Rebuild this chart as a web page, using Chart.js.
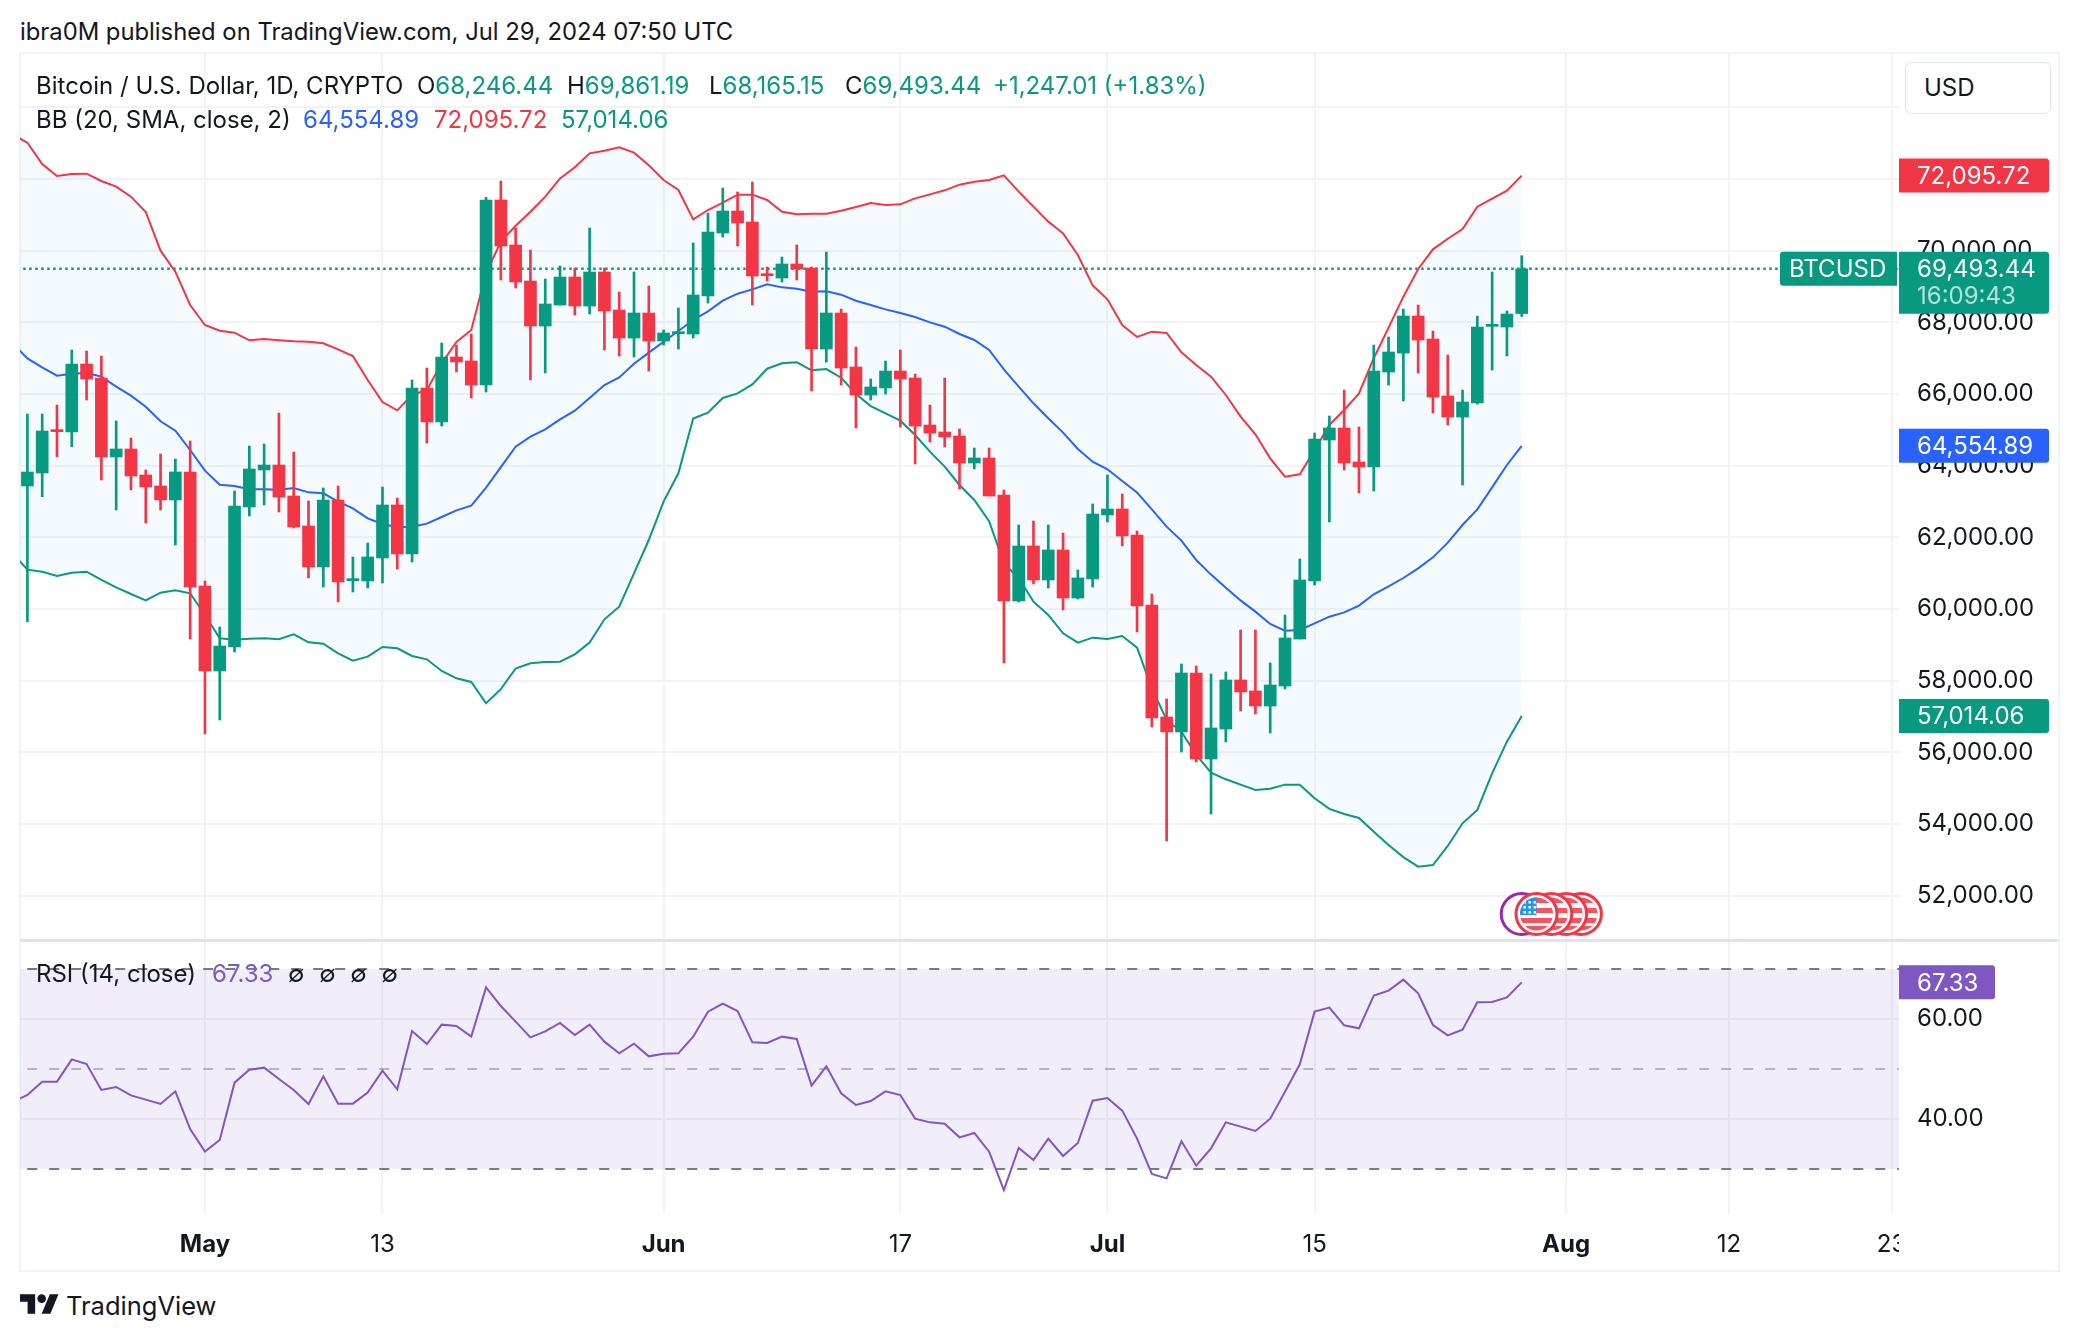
<!DOCTYPE html>
<html>
<head>
<meta charset="utf-8">
<title>BTCUSD</title>
<script src="https://cdn.jsdelivr.net/npm/chart.js@4"></script>
<style>
  html, body { margin: 0; padding: 0; background: #fff; }
  body { width: 2078px; height: 1340px; position: relative; overflow: hidden; font-family: Inter, sans-serif; color: #131722; }
  .t { position: absolute; white-space: pre; font-size: 24px; line-height: 30px; }
  canvas { position: absolute; left: 20px; }
  #frame { position: absolute; left: 19px; top: 52px; width: 2037px; height: 1216px; border: 2px solid #f0f3fa; }
  #sep { position: absolute; left: 20px; top: 939px; width: 2038px; height: 3px; background: #e0e3eb; }
  #usd { position: absolute; left: 1905px; top: 62px; width: 144px; height: 50px; background: #fff; border: 1px solid #e0e3eb; border-radius: 6px; font-size: 24px; line-height: 50px; text-indent: 18px; }
  .g { color: #089981; } .r { color: #f23645; } .b { color: #2962ff; } .p { color: #7e57c2; }
</style>
</head>
<body>
<div id="frame"></div>
<canvas id="main" width="2038" height="886" style="top:54px"></canvas>
<canvas id="rsi" width="2038" height="329" style="top:941px"></canvas>
<div id="sep"></div>
<div id="usd">USD</div>

<div class="t" style="left:20px;top:17px;font-size:23.8px">ibra0M published on TradingView.com, Jul 29, 2024 07:50 UTC</div>
<div class="t" style="left:36px;top:71px">Bitcoin / U.S. Dollar, 1D, CRYPTO</div>
<div class="t" style="left:417px;top:71px">O<span class="g">68,246.44</span></div>
<div class="t" style="left:567px;top:71px">H<span class="g">69,861.19</span></div>
<div class="t" style="left:709px;top:71px">L<span class="g">68,165.15</span></div>
<div class="t" style="left:845px;top:71px">C<span class="g">69,493.44</span></div>
<div class="t g" style="left:993px;top:71px">+1,247.01 (+1.83%)</div>
<div class="t" style="left:36px;top:105px">BB (20, SMA, close, 2)</div>
<div class="t b" style="left:303px;top:105px">64,554.89</div>
<div class="t r" style="left:434px;top:105px">72,095.72</div>
<div class="t g" style="left:561px;top:105px">57,014.06</div>
<div class="t" style="left:36px;top:959px">RSI (14, close)</div>
<div class="t p" style="left:212px;top:959px">67.33</div>
<div class="t" style="left:288px;top:959px;word-spacing:8px">∅ ∅ ∅ ∅</div>

<svg style="position:absolute;left:20px;top:1292px" width="39" height="24" viewBox="0 4 36 18"><path fill="#131722" d="M14 22H7V11H0V4h14v18zM28 22h-8l7.5-18h8L28 22z"/><circle fill="#131722" cx="20" cy="8" r="4"/></svg>
<div class="t" style="left:66px;top:1291px;font-size:25.5px">TradingView</div>

<script>
// values, day 0 = May 1 2024
const candleStart = -12; // Apr 19
const opens = [63433,63796,64996,64940,66838,66447,64243,64466,63740,63433,63043,63824,60642,58270,58940,62847,63880,64019,63154,62317,
  61173,63043,60791,60782,61424,62903,61535,66168,65219,67033,66922,66251,71415,70159,69154,67898,68484,69266,68456,69405,
  68345,67563,68261,67480,67684,67675,68735,70494,71108,70801,69349,69238,69629,69517,67256,68261,66754,65972,66168,66642,
  66447,65135,64940,64829,64075,64215,63182,60224,61759,60810,61647,60307,60838,62624,62791,62066,60112,56986,56568,58214,
  55814,56651,58019,57712,57293,57851,59163,60782,64717,65052,64103,63963,66614,67144,68177,67535,65944,65358,65749,67889,
  67870,68246.44];
const highs = [65443,65443,65694,67229,67201,67061,65247,64773,63880,64326,64187,64689,60782,59498,63294,64550,64605,65470,64382,63015,
  63377,63433,61452,61842,63405,63098,66392,66726,67424,67368,67675,71489,71945,70633,70019,69210,69573,69517,70633,69517,
  68847,69405,69015,67787,68401,70215,71052,71750,71638,71917,69545,69824,70159,69545,69963,68373,67312,66419,66921,67228,
  66559,65693,66447,65024,64494,64494,63322,62345,62456,62345,62122,61089,62931,63740,63210,62177,60419,57489,58465,58410,
  58186,58242,59414,59414,58493,59833,61396,64912,65387,66112,65080,67368,67591,68372,68484,67758,67089,66112,68177,69405,
  68317,69861.19];
const lows = [59647,63135,64252,64531,65833,63601,62763,63322,62401,62763,61787,59163,56512,56903,58800,62596,62903,62708,62261,60866,
  60614,60196,60475,60586,60726,61117,61312,64633,65108,66615,65889,66056,69182,68959,66391,66587,68484,68205,68233,67228,
  67061,67033,66642,67368,67256,67563,68540,70382,70131,68484,69154,69126,69182,66084,66893,66252,65051,65833,66000,65079,
  64047,64661,64522,63349,63908,63154,58493,60196,60698,60586,59972,60279,60614,62428,61759,59358,56707,53525,56009,55730,
  54278,56289,57154,57070,56540,57768,59163,60670,62428,63880,63238,63294,66251,65805,66586,65470,65135,63461,65721,66670,
  67061,68165.15];
const closes = [63824,64968,64950,66838,66419,64243,64466,63712,63405,63043,63824,60614,58270,58968,62875,63908,64019,63126,62289,61173,
  63043,60754,60838,61452,62903,61535,66168,65219,67033,66894,66252,71415,70131,69126,67898,68512,69266,68456,69405,68317,
  67563,68261,67480,67703,67731,68763,70522,71108,70773,69294,69303,69629,69489,67256,68261,66726,65972,66196,66642,66419,
  65107,64912,64801,64075,64215,63154,60224,61759,60810,61647,60307,60866,62652,62791,62038,60084,56958,56568,58214,55814,
  56679,58019,57684,57293,57879,59191,60810,64745,65052,64075,63963,66643,67172,68177,67507,65916,65358,65777,67870,67926,
  68233,69493.44];

const lineStart = -13; // Apr 18, just off the left edge
const bbUpper = [73248,73015,72420,72085,72141,72150,71945,71787,71508,71080,
  70001,69415,68485,67926,67768,67713,67499,67536,67499,67471,
  67461,67415,67247,67061,66391,65777,65545,65973,66112,66857,
  67452,67787,69368,70252,70698,71089,71508,72019,72327,72718,
  72792,72885,72736,72383,71973,71694,70875,71136,71340,71564,
  71564,71415,71089,71015,71033,71033,71117,71219,71331,71275,
  71294,71461,71573,71685,71843,71927,71974,72104,71648,71229,
  70811,70485,69880,69034,68643,67927,67592,67741,67703,67164,
  66810,66485,65973,65368,64875,64205,63694,63759,64438,65136,
  65554,66019,67000,67852,68717,69489,70038,70335,70605,71228,
  71452,71675,72095.72];
const bbMiddle = [67415,66996,66745,66512,66568,66587,66485,66206,65954,65647,
  65238,64977,64438,63861,63470,63433,63340,63340,63331,63377,
  63256,63228,62996,62810,62531,62373,62280,62298,62382,62568,
  62754,62884,63390,63960,64530,64810,65014,65293,65535,65889,
  66252,66465,66847,67154,67461,67759,68066,68308,68605,68801,
  68921,69061,68977,68940,68856,68866,68773,68605,68484,68363,
  68261,68149,68000,67880,67675,67508,67229,66690,66206,65741,
  65322,64922,64466,64113,63899,63570,63250,62780,62298,61910,
  61368,60960,60590,60240,59926,59582,59396,59414,59600,59786,
  59907,60095,60410,60632,60865,61135,61442,61851,62344,62781,
  63395,64019,64554.89];
const bbLower = [61554,61098,61042,60921,61014,61042,60810,60605,60419,60242,
  60456,60521,60438,59833,59182,59145,59173,59182,59154,59293,
  59070,59033,58763,58559,58670,58940,58903,58689,58596,58270,
  58065,57963,57368,57764,58340,58484,58521,58531,58735,59061,
  59712,60066,60996,61926,62996,63787,65317,65479,65889,66019,
  66270,66707,66856,66884,66661,66698,66456,66000,65665,65461,
  65256,64856,64391,63973,63461,63043,62450,61275,60856,60205,
  59833,59321,59061,59200,59163,59247,58921,57786,56903,56577,
  55926,55433,55247,55098,54949,54986,55098,55098,54716,54420,
  54279,54167,53786,53414,53075,52808,52855,53386,54019,54391,
  55414,56298,57014.06];
const rsiValues = [43.4,44.8,47.47,47.47,51.93,51.0,45.8,46.4,44.73,43.87,43.0,
  45.53,38.0,33.47,35.8,47.27,49.87,50.27,48.0,45.8,43.0,
  48.53,43.07,43.07,45.27,49.67,45.93,57.6,55.0,58.87,58.6,
  56.47,66.33,62.6,59.47,56.33,57.53,59.2,56.8,58.87,55.47,
  53.13,55.07,52.53,53.07,53.13,56.47,61.47,63.07,61.6,55.33,
  55.2,56.47,56.0,46.67,50.53,45.13,42.8,43.6,45.53,44.8,
  40.07,39.33,39.07,36.33,37.2,33.47,25.8,34.2,31.8,
  36.07,32.6,35.2,43.67,44.2,41.67,36.07,29.0,28.13,35.53,30.67,34.13,39.33,38.47,37.6,40.07,45.47,50.93,
  61.47,62.27,58.73,58.13,64.67,65.67,67.87,65.13,58.8,56.73,57.87,63.33,63.4,64.33,67.33];

const lastPrice = 69493.44;
const tickDays = [0, 12, 31, 47, 61, 75, 92, 103, 114];
const tickLabels = ['May', '13', 'Jun', '17', 'Jul', '15', 'Aug', '12', '23'];
const monthTicks = ['May', 'Jun', 'Jul', 'Aug'];
const priceTicks = [52000,54000,56000,58000,60000,62000,64000,66000,68000,70000,72000,74000];
const rsiTicks = [40, 60];
const rsiLevels = [70, 50, 30];
const eventDays = [89, 90, 91, 92, 93];

const GREEN = '#089981', RED = '#f23645', BLUE = '#2962ff', PURPLE = '#7e57c2';
const GRID = '#f2f3f5', TEXT = '#131722';
const FONT = 'Inter, sans-serif';
const xMin = -12.5, xMax = 114.5, axisW = 159;

const pts = (start, vals) => vals.map((y, i) => ({ x: start + i, y: y }));
const lineDs = (data, color, extra) => Object.assign({ type: 'line', data: data, borderColor: color, borderWidth: 2, pointRadius: 0, tension: 0 }, extra);
const edges = v => [{ x: xMin - 1, y: v }, { x: xMax + 1, y: v }];
// no room kept for labels that overhang the plot
const noPad = s => { s.paddingTop = s.paddingBottom = s.paddingLeft = s.paddingRight = 0; };

function xScale(showTicks) {
  return {
    type: 'linear', min: xMin, max: xMax, offset: false,
    afterBuildTicks: s => { s.ticks = tickDays.map(v => ({ value: v })); },
    afterFit: s => { s.height = showTicks ? 57 : 0; noPad(s); },
    border: { display: false },
    grid: { color: GRID, lineWidth: 2, drawTicks: false, offset: false },
    ticks: {
      display: showTicks, autoSkip: false, maxRotation: 0, padding: 17, color: TEXT,
      callback: v => tickLabels[tickDays.indexOf(v)],
      font: c => ({ family: FONT, size: 24, weight: c.tick && monthTicks.includes(tickLabels[tickDays.indexOf(c.tick.value)]) ? '700' : '400' })
    }
  };
}
function yScale(min, max, list, fmt) {
  return {
    type: 'linear', position: 'right', min: min, max: max, beginAtZero: false,
    afterBuildTicks: s => { s.ticks = list.map(v => ({ value: v })); },
    afterFit: s => { s.width = axisW; noPad(s); },
    border: { display: false },
    grid: { color: GRID, lineWidth: 2, drawTicks: false },
    ticks: { padding: 18, color: TEXT, font: { family: FONT, size: 24 }, callback: fmt }
  };
}
const fmtNum = v => v.toLocaleString('en-US', { minimumFractionDigits: 2, maximumFractionDigits: 2 });
// the top grid line has no label, the USD button sits there
const fmtPrice = v => v === priceTicks.at(-1) ? '' : fmtNum(v);

function tag(ctx, x, y, w, h, color, radius) {
  ctx.fillStyle = color;
  ctx.beginPath();
  ctx.roundRect(x, y, w, h, radius);
  ctx.fill();
}

function drawFlag(ctx, cx, cy) {
  ctx.beginPath(); ctx.arc(cx, cy, 20.5, 0, Math.PI * 2);
  ctx.fillStyle = '#fff'; ctx.fill();
  ctx.strokeStyle = RED; ctx.lineWidth = 3; ctx.stroke();
  ctx.save();
  ctx.beginPath(); ctx.arc(cx, cy, 16.5, 0, Math.PI * 2); ctx.clip();
  ctx.fillStyle = '#f7525f';
  ctx.fillRect(cx - 17, cy - 17, 34, 34);
  ctx.fillStyle = '#fff';
  ctx.fillRect(cx - 17, cy - 11, 34, 5);
  ctx.fillRect(cx - 17, cy - 1, 34, 5);
  ctx.fillRect(cx - 17, cy + 9, 34, 3);
  ctx.fillStyle = '#2196f3';
  ctx.fillRect(cx - 17, cy - 17, 17, 18);
  ctx.fillStyle = '#fff';
  for (let r = 0; r < 3; r++) for (let c = 0; c < 3; c++) {
    ctx.fillRect(cx - 13 + c * 5, cy - 13 + r * 5, 2.5, 2.5);
  }
  ctx.restore();
}

const mainOverlay = {
  id: 'mainOverlay',
  afterDraw(chart) {
    const { ctx, scales: { x, y }, chartArea: a } = chart;
    const ey = 914 - 54;
    // events, back to front
    ctx.beginPath(); ctx.arc(x.getPixelForValue(eventDays[0]), ey, 20.5, 0, Math.PI * 2);
    ctx.fillStyle = '#fff'; ctx.fill();
    ctx.strokeStyle = '#9c27b0'; ctx.lineWidth = 3; ctx.stroke();
    for (let i = eventDays.length - 1; i > 0; i--) drawFlag(ctx, x.getPixelForValue(eventDays[i]), ey);

    // last value tags on the price axis
    ctx.textBaseline = 'middle';
    ctx.textAlign = 'left';
    ctx.font = '24px ' + FONT;
    const tagW = 150;
    [[bbUpper.at(-1), RED], [bbMiddle.at(-1), BLUE], [bbLower.at(-1), GREEN]].forEach(([v, c]) => {
      const py = y.getPixelForValue(v);
      tag(ctx, a.right, py - 17, tagW, 34, c, [0, 3, 3, 0]);
      ctx.fillStyle = '#fff';
      ctx.fillText(fmtNum(v), a.right + 18, py + 1);
    });
    const py = y.getPixelForValue(lastPrice);
    tag(ctx, a.right, py - 17, tagW, 62, GREEN, [0, 3, 3, 0]);
    tag(ctx, a.right - 119, py - 17, 117, 34, GREEN, [3, 0, 0, 3]);
    ctx.fillStyle = '#fff';
    ctx.fillText(fmtNum(lastPrice), a.right + 18, py + 1);
    ctx.fillText('BTCUSD', a.right - 110, py + 1);
    ctx.fillStyle = 'rgba(255,255,255,0.7)';
    ctx.fillText('16:09:43', a.right + 18, py + 28);
  }
};

const rsiOverlay = {
  id: 'rsiOverlay',
  afterDraw(chart) {
    const { ctx, scales: { y }, chartArea: a } = chart;
    // the last axis label is cut at the price scale
    ctx.clearRect(a.right, a.bottom, axisW, chart.height - a.bottom);
    const last = rsiValues.at(-1), py = y.getPixelForValue(last);
    tag(ctx, a.right, py - 17, 96, 34, PURPLE, [0, 3, 3, 0]);
    ctx.fillStyle = '#fff';
    ctx.textBaseline = 'middle';
    ctx.textAlign = 'left';
    ctx.font = '24px ' + FONT;
    ctx.fillText(last.toFixed(2), a.right + 18, py + 1);
  }
};

const candleDays = opens.map((_, i) => candleStart + i);
const candleColors = opens.map((o, i) => closes[i] >= o ? GREEN : RED);

new Chart(document.getElementById('main'), {
  type: 'bar',
  data: {
    datasets: [
      lineDs(edges(lastPrice), GREEN, { borderDash: [2.5, 3.5], borderWidth: 2.5, order: 5 }),
      lineDs(pts(lineStart, bbUpper), RED, { fill: 3, backgroundColor: 'rgba(33,150,243,0.05)', order: 4 }),
      lineDs(pts(lineStart, bbMiddle), BLUE, { order: 3 }),
      lineDs(pts(lineStart, bbLower), GREEN, { order: 2 }),
      { type: 'bar', grouped: false, barThickness: 2, order: 1, backgroundColor: candleColors,
        data: candleDays.map((d, i) => ({ x: d, y: [lows[i], highs[i]] })) },
      { type: 'bar', grouped: false, barThickness: 12, order: 0, minBarLength: 2, backgroundColor: candleColors,
        data: candleDays.map((d, i) => ({ x: d, y: [opens[i], closes[i]] })) }
    ]
  },
  options: {
    responsive: false, animation: false, events: [],
    layout: { padding: 0 },
    plugins: { legend: { display: false }, tooltip: { enabled: false } },
    scales: { x: xScale(false), y: yScale(50762, 75490, priceTicks, fmtPrice) }
  },
  plugins: [mainOverlay]
});

new Chart(document.getElementById('rsi'), {
  type: 'line',
  data: {
    datasets: [
      lineDs(edges(rsiLevels[0]), '#787b86', { borderDash: [10, 12], fill: 2, backgroundColor: 'rgba(126,87,194,0.1)', order: 4 }),
      lineDs(edges(rsiLevels[1]), 'rgba(120,123,134,0.5)', { borderDash: [10, 12], order: 3 }),
      lineDs(edges(rsiLevels[2]), '#787b86', { borderDash: [10, 12], order: 2 }),
      lineDs(pts(lineStart, rsiValues), PURPLE, { order: 1 })
    ]
  },
  options: {
    responsive: false, animation: false, events: [],
    layout: { padding: 0 },
    plugins: { legend: { display: false }, tooltip: { enabled: false } },
    scales: { x: xScale(true), y: yScale(21.2, 75.6, rsiTicks, fmtNum) }
  },
  plugins: [rsiOverlay]
});
</script>
</body>
</html>
